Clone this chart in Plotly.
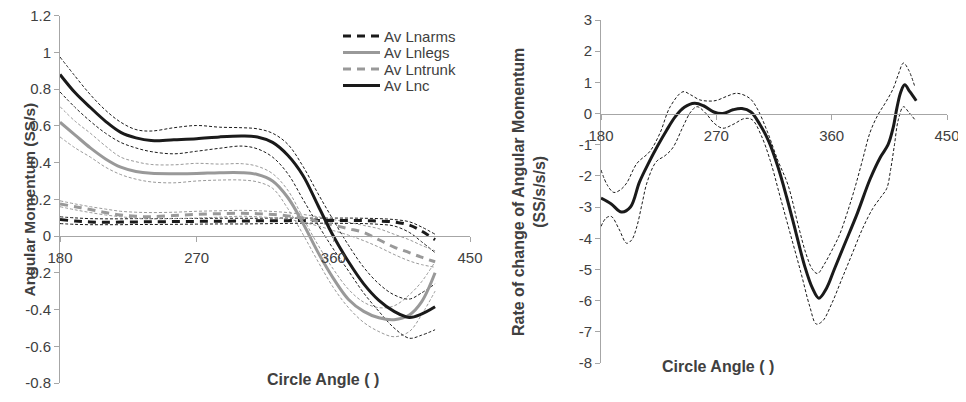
import plotly.graph_objects as go

# ---------------- Left chart data ----------------
ANGLE_L = [180, 190, 200, 210, 220, 230, 240, 255, 270, 285, 300, 310, 320, 330,
           340, 350, 360, 370, 380, 390, 400, 410, 418, 427]

ARMS = [0.09, 0.082, 0.077, 0.075, 0.076, 0.077, 0.078, 0.079, 0.08, 0.081, 0.082, 0.083,
        0.084, 0.084, 0.085, 0.085, 0.085, 0.085, 0.084, 0.082, 0.077, 0.06, 0.028, -0.02]
ARMS_HI = [0.105, 0.099, 0.095, 0.094, 0.094, 0.095, 0.095, 0.096, 0.096, 0.097, 0.097, 0.097,
           0.098, 0.098, 0.098, 0.098, 0.098, 0.098, 0.097, 0.095, 0.09, 0.078, 0.05, 0.01]
ARMS_LO = [0.068, 0.064, 0.062, 0.062, 0.062, 0.063, 0.063, 0.064, 0.065, 0.066, 0.066, 0.067,
           0.068, 0.069, 0.07, 0.07, 0.07, 0.069, 0.068, 0.064, 0.055, 0.02, -0.03, -0.09]

TRUNK = [0.175, 0.16, 0.145, 0.128, 0.115, 0.108, 0.105, 0.112, 0.118, 0.122, 0.124, 0.122,
         0.118, 0.11, 0.098, 0.08, 0.06, 0.04, 0.02, -0.02, -0.06, -0.09, -0.115, -0.14]
TRUNK_HI = [0.192, 0.175, 0.16, 0.147, 0.135, 0.13, 0.128, 0.13, 0.135, 0.138, 0.14, 0.138,
            0.134, 0.128, 0.118, 0.105, 0.09, 0.075, 0.058, 0.04, 0.01, -0.02, -0.05, -0.08]
TRUNK_LO = [0.16, 0.143, 0.128, 0.115, 0.105, 0.098, 0.094, 0.095, 0.098, 0.103, 0.108, 0.105,
            0.1, 0.092, 0.075, 0.055, 0.03, 0.005, -0.025, -0.06, -0.10, -0.135, -0.155, -0.17]

LEGS = [0.62, 0.55, 0.48, 0.42, 0.375, 0.352, 0.342, 0.34, 0.341, 0.345, 0.345, 0.335,
        0.30, 0.21, 0.07, -0.09, -0.23, -0.345, -0.41, -0.445, -0.455, -0.43, -0.36, -0.2]
LEGS_HI = [0.705, 0.625, 0.56, 0.49, 0.43, 0.405, 0.39, 0.388, 0.396, 0.392, 0.394, 0.38,
           0.34, 0.25, 0.10, -0.05, -0.18, -0.29, -0.36, -0.39, -0.38, -0.32, -0.25, -0.14]
LEGS_LO = [0.54, 0.48, 0.43, 0.375, 0.335, 0.31, 0.295, 0.29, 0.30, 0.305, 0.305, 0.295,
           0.26, 0.15, 0.01, -0.14, -0.28, -0.39, -0.47, -0.52, -0.548, -0.52, -0.43, -0.30]

LNC = [0.88, 0.78, 0.70, 0.625, 0.565, 0.535, 0.52, 0.525, 0.53, 0.54, 0.545, 0.54,
       0.51, 0.44, 0.33, 0.165, 0.0, -0.14, -0.26, -0.35, -0.41, -0.443, -0.425, -0.385]
LNC_HI = [0.975, 0.87, 0.77, 0.685, 0.62, 0.58, 0.572, 0.59, 0.602, 0.593, 0.59, 0.584,
          0.56, 0.50, 0.38, 0.23, 0.087, -0.05, -0.17, -0.26, -0.32, -0.343, -0.31, -0.26]
LNC_LO = [0.785, 0.70, 0.625, 0.56, 0.51, 0.48, 0.46, 0.448, 0.462, 0.478, 0.49, 0.475,
          0.43, 0.34, 0.20, 0.06, -0.07, -0.19, -0.31, -0.41, -0.50, -0.556, -0.54, -0.51]

# ---------------- Right chart data ----------------
RX_MEAN = [180, 188, 196, 203, 210, 217, 224, 231, 238, 245, 253, 260, 268, 275, 283, 290,
           297, 304, 311, 318, 325, 332, 339, 345, 350, 356, 362, 370, 380, 390, 398, 404,
           408, 411, 414, 417, 421, 426]
R_MEAN = [-2.71, -2.9, -3.16, -3.0, -2.2, -1.6, -1.05, -0.55, -0.1, 0.2, 0.33, 0.25, 0.05,
          0.0, 0.12, 0.16, 0.05, -0.35, -0.9, -1.7, -2.7, -3.8, -4.9, -5.6, -5.92, -5.6,
          -5.0, -4.2, -3.2, -2.1, -1.4, -1.0, -0.45, 0.2, 0.7, 0.92, 0.7, 0.41]

RX_HI = [180, 185, 190, 195, 200, 208, 218, 226, 234, 244, 250, 257, 264, 270, 278, 286,
         296, 302, 310, 318, 326, 334, 340, 345, 349, 354, 360, 366, 372, 378, 384, 390,
         396, 402, 408, 412, 416, 420, 425]
R_HI = [-1.81, -2.3, -2.53, -2.45, -2.23, -1.6, -1.22, -0.63, 0.22, 0.7, 0.6, 0.44, 0.4,
        0.42, 0.55, 0.65, 0.49, 0.15, -0.6, -1.5, -2.3, -3.6, -4.5, -5.0, -5.13, -4.85,
        -4.4, -3.9, -3.2, -2.4, -1.5, -0.6, -0.05, 0.35, 0.8, 1.25, 1.62, 1.4, 0.85]

RX_LO = [180, 184, 188, 194, 200, 204, 208, 212, 216, 223, 230, 236, 244, 250, 255, 262,
         268, 275, 283, 292, 298, 305, 312, 320, 328, 336, 343, 348, 353, 360, 368, 376,
         384, 392, 398, 403, 406, 409, 412, 416, 420, 425]
R_LO = [-3.62, -3.35, -3.3, -3.7, -4.16, -4.05, -3.62, -2.9, -2.2, -1.55, -1.35, -1.1,
        -0.42, 0.05, 0.22, 0.0, -0.3, -0.47, -0.35, -0.16, -0.2, -0.7, -1.5, -2.7, -3.9,
        -5.1, -6.2, -6.75, -6.65, -6.1, -5.3, -4.5, -3.7, -3.05, -2.7, -2.4, -1.8, -1.0,
        -0.2, 0.22, 0.05, -0.2]

# ---------------- Axis tick labels ----------------
X_TICKS = [180, 270, 360, 450]
X_TICKTEXT = ["180", "270", "360", "450"]
YL_TICKS = [1.2, 1.0, 0.8, 0.6, 0.4, 0.2, 0.0, -0.2, -0.4, -0.6, -0.8]
YL_TICKTEXT = ["1.2", "1", "0.8", "0.6", "0.4", "0.2", "0", "-0.2", "-0.4", "-0.6", "-0.8"]
YR_TICKS = [3, 2, 1, 0, -1, -2, -3, -4, -5, -6, -7, -8]
YR_TICKTEXT = ["3", "2", "1", "0", "-1", "-2", "-3", "-4", "-5", "-6", "-7", "-8"]
LEGEND_NAMES = ["Av Lnarms", "Av Lnlegs", "Av Lntrunk", "Av Lnc"]

BLACK = "#1a1a1a"
GRAY = "#999999"
AXIS = "#a6a6a6"
TEXT = "#404040"
FONT = "Liberation Sans, Arial, sans-serif"
THIN = "3px,2px"
THICK_DASH = "8px,6px"

# the page body has an 8px margin, so the figure is sized to fit inside the window
OFF = 8
W, H = 966 - 2 * OFF, 402 - 2 * OFF


def px(xp):
    return (xp - OFF) / W


def py(yp):
    return (H - (yp - OFF)) / H


fig = go.Figure()


def band(x, y, color, xa, ya):
    fig.add_trace(go.Scatter(x=x, y=y, mode="lines", showlegend=False, hoverinfo="skip",
                             line=dict(color=color, width=1, dash=THIN, shape="spline"),
                             xaxis=xa, yaxis=ya))


# left chart bands
band(ANGLE_L, ARMS_HI, BLACK, "x", "y")
band(ANGLE_L, ARMS_LO, BLACK, "x", "y")
band(ANGLE_L, TRUNK_HI, GRAY, "x", "y")
band(ANGLE_L, TRUNK_LO, GRAY, "x", "y")
band(ANGLE_L, LEGS_HI, GRAY, "x", "y")
band(ANGLE_L, LEGS_LO, GRAY, "x", "y")
band(ANGLE_L, LNC_HI, BLACK, "x", "y")
band(ANGLE_L, LNC_LO, BLACK, "x", "y")

# left chart means
MEAN_STYLES = [
    (ARMS, BLACK, THICK_DASH),
    (LEGS, GRAY, "solid"),
    (TRUNK, GRAY, THICK_DASH),
    (LNC, BLACK, "solid"),
]
for name, (vals, col, dash) in zip(LEGEND_NAMES, MEAN_STYLES):
    fig.add_trace(go.Scatter(x=ANGLE_L, y=vals, mode="lines", name=name, showlegend=False,
                             line=dict(color=col, width=3, dash=dash, shape="spline")))

# right chart
band(RX_HI, R_HI, BLACK, "x2", "y2")
band(RX_LO, R_LO, BLACK, "x2", "y2")
fig.add_trace(go.Scatter(x=RX_MEAN, y=R_MEAN, mode="lines", showlegend=False,
                         line=dict(color=BLACK, width=3, shape="spline"),
                         xaxis="x2", yaxis="y2"))

L_DOM_X = [px(60), px(470)]
L_DOM_Y = [py(383), py(15.7)]
R_DOM_X = [px(601), px(947)]
R_DOM_Y = [py(363), py(20)]

l_zero = L_DOM_Y[0] + (L_DOM_Y[1] - L_DOM_Y[0]) * 0.8 / 2.0
r_zero = R_DOM_Y[0] + (R_DOM_Y[1] - R_DOM_Y[0]) * 8 / 11

xcommon = dict(range=[180, 450], tickvals=X_TICKS, ticktext=X_TICKTEXT, ticks="outside",
               ticklen=5, tickcolor=AXIS, showline=True, linecolor=AXIS, linewidth=1,
               showgrid=False, zeroline=False, automargin=False, ticklabelstandoff=3,
               ticklabeloverflow="allow",
               tickfont=dict(size=15, color=TEXT, family=FONT), anchor="free")
ycommon = dict(ticks="outside", ticklen=5, tickcolor=AXIS, showline=True, linecolor=AXIS,
               linewidth=1, showgrid=False, zeroline=False, automargin=False,
               ticklabeloverflow="allow",
               tickfont=dict(size=15, color=TEXT, family=FONT))

fig.update_layout(
    width=W, height=H,
    margin=dict(l=0, r=0, t=0, b=0, autoexpand=False),
    paper_bgcolor="white", plot_bgcolor="white",
    font=dict(family=FONT, color=TEXT),
    xaxis=dict(domain=L_DOM_X, position=l_zero, **xcommon),
    yaxis=dict(domain=L_DOM_Y, range=[-0.8, 1.2], tickvals=YL_TICKS, ticktext=YL_TICKTEXT,
               anchor="x", **ycommon),
    xaxis2=dict(domain=R_DOM_X, position=r_zero, **xcommon),
    yaxis2=dict(domain=R_DOM_Y, range=[-8, 3], tickvals=YR_TICKS, ticktext=YR_TICKTEXT,
                anchor="x2", **ycommon),
    showlegend=False,
)

# compact legend (key lines + labels) in the upper right of the left panel
LEG_ROWS_Y = [36, 52.5, 69, 85.5]
for name, (vals, col, dash), ry in zip(LEGEND_NAMES, MEAN_STYLES, LEG_ROWS_Y):
    fig.add_shape(type="line", xref="paper", yref="paper", x0=px(343), x1=px(380),
                  y0=py(ry), y1=py(ry), line=dict(color=col, width=3, dash=dash))
    fig.add_annotation(text=name, x=px(382), y=py(ry), xref="paper", yref="paper",
                       xanchor="left", yanchor="middle", showarrow=False,
                       font=dict(size=15, color=TEXT, family=FONT))

fig.add_annotation(text="<b>Angular Momentum (SS/s)</b>", textangle=-90,
                   x=px(18), y=py(200), xref="paper", yref="paper",
                   showarrow=False, font=dict(size=15.5, color=TEXT, family=FONT))
fig.add_annotation(text="<b>Circle Angle ( )</b>",
                   x=px(265), y=py(390), xref="paper", yref="paper",
                   showarrow=False, font=dict(size=16, color=TEXT, family=FONT))
fig.add_annotation(text="<b>Rate of change of Angular Momentum<br>(SS/s/s/s)</b>",
                   textangle=-90, x=px(529), y=py(192), xref="paper", yref="paper",
                   showarrow=False, font=dict(size=16, color=TEXT, family=FONT))
fig.add_annotation(text="<b>Circle Angle ( )</b>",
                   x=px(776), y=py(377), xref="paper", yref="paper",
                   showarrow=False, font=dict(size=16, color=TEXT, family=FONT))

fig.write_html("out.html")
